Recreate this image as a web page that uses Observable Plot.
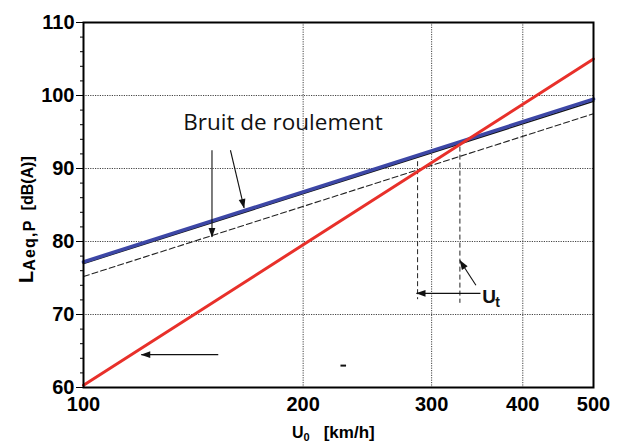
<!DOCTYPE html>
<html>
<head>
<meta charset="utf-8">
<script src="https://cdn.jsdelivr.net/npm/d3@7"></script>
<script src="https://cdn.jsdelivr.net/npm/@observablehq/plot@0.6"></script>
<style>
  html, body { margin: 0; padding: 0; background: #fff; }
</style>
</head>
<body>
<div id="chart"></div>
<script>
// ---- data ----
const xTicks = [100, 200, 300, 400, 500];
const yMajorTicks = [60, 70, 80, 90, 100, 110];
const yMinorTicks = [62, 64, 66, 68, 72, 74, 76, 78, 82, 84, 86, 88, 92, 94, 96, 98, 102, 104, 106, 108];
const xGrid = [200, 300, 400];
const yGrid = [70, 80, 90, 100];

const speedEnds = [100, 500];               // U0 [km/h]
const rollingBlue = [77.2, 99.5];           // bruit de roulement (blue)
const rollingBlack = [77.0, 99.2];          // black trace under blue
const rollingDashed = [75.2, 97.5];         // dashed rolling noise
const aeroRed = [60.3, 105.0];              // aerodynamic noise (red)

// vertical dashed markers for U_t
const utX = [287, 328];
const utTop = [91.0, 93.0];
const utBottom = [72.1, 71.6];

// annotation arrows
const arrowX1 = [150, 159, 153, 350, 345];
const arrowY1 = [92.5, 92.5, 64.5, 72.9, 74.0];
const arrowX2 = [150, 166, 120, 286, 328];
const arrowY2 = [80.6, 84.6, 64.5, 72.9, 77.4];

const labelBruit = ["Bruit de roulement"];
const labelBruitX = [137];
const labelBruitY = [96.2];
const labelUtX = [352];
const labelUtY = [72.4];

const idx = (arr) => arr.map((_, i) => i);

function filledArrow(color, context) {
  const doc = (context && context.document) || document;
  const m = d3.select(doc.createElementNS("http://www.w3.org/2000/svg", "marker"))
    .attr("viewBox", "-10 -5 12 10")
    .attr("markerWidth", 12)
    .attr("markerHeight", 10)
    .attr("refX", 0)
    .attr("refY", 0)
    .attr("orient", "auto")
    .attr("markerUnits", "userSpaceOnUse")
    .attr("fill", color)
    .attr("stroke", "none");
  m.append("path").attr("d", "M-9,-3.4L0.5,0L-9,3.4Z");
  return m.node();
}

const chart = Plot.plot({
  width: 624,
  height: 448,
  marginLeft: 83,
  marginTop: 22,
  marginRight: 31,
  marginBottom: 61,
  style: { fontFamily: "'Liberation Sans', Arial, sans-serif", background: "#fff", color: "#000" },
  x: { type: "log", domain: [100, 500], label: null },
  y: { domain: [60, 110], label: null },
  marks: [
    Plot.ruleY(yGrid, { stroke: "#444", strokeWidth: 1, strokeDasharray: "1.2,1.2" }),
    Plot.ruleX(xGrid, { stroke: "#444", strokeWidth: 1, strokeDasharray: "1.2,1.2" }),
    Plot.axisY(yMajorTicks, { tickSize: 7, tickPadding: 2, fontSize: 20, fontWeight: "bold", label: null }),
    Plot.axisY(yMinorTicks, { tickSize: 3, tickFormat: () => "", label: null }),
    Plot.axisX(xTicks, { tickSize: 0, tickPadding: 9, fontSize: 20, fontWeight: "bold", tickFormat: d => String(d), label: null }),
    // vertical dashed U_t markers
    Plot.link(idx(utX), {
      x1: i => utX[i], x2: i => utX[i], y1: i => utTop[i], y2: i => utBottom[i],
      stroke: "#222", strokeWidth: 1, strokeDasharray: "5,3"
    }),
    // lines
    Plot.line(speedEnds, { x: d => d, y: (d, i) => rollingDashed[i], stroke: "#222", strokeWidth: 1.1, strokeDasharray: "6,3" }),
    Plot.line(speedEnds, { x: d => d, y: (d, i) => rollingBlack[i], stroke: "#111", strokeWidth: 1.6 }),
    Plot.line(speedEnds, { x: d => d, y: (d, i) => rollingBlue[i], stroke: "#3d47a6", strokeWidth: 3.6 }),
    Plot.line(speedEnds, { x: d => d, y: (d, i) => aeroRed[i], stroke: "#e8302a", strokeWidth: 3 }),
    // arrows
    Plot.link(idx(arrowX1), {
      x1: i => arrowX1[i], y1: i => arrowY1[i], x2: i => arrowX2[i], y2: i => arrowY2[i],
      stroke: "#111", strokeWidth: 1.1, markerEnd: filledArrow
    }),
    // stray dash
    Plot.link([0], { x1: 225, x2: 229, y1: 63.0, y2: 63.0, stroke: "#111", strokeWidth: 2 }),
    // labels
    Plot.text(labelBruit, {
      x: (d, i) => labelBruitX[i], y: (d, i) => labelBruitY[i], text: d => d,
      textAnchor: "start", fontSize: 22.5, fontFamily: "'Open Sans', 'Noto Sans', sans-serif", fill: "#111"
    }),
    Plot.text(["U"], {
      x: (d, i) => labelUtX[i], y: (d, i) => labelUtY[i], text: d => d,
      textAnchor: "start", fontSize: 19, fontWeight: "bold", fill: "#111"
    }),
    Plot.text(["t"], {
      x: (d, i) => labelUtX[i], y: (d, i) => labelUtY[i], text: d => d,
      textAnchor: "start", fontSize: 14, fontWeight: "bold", fill: "#111", dx: 13, dy: 6
    }),
    Plot.frame({ stroke: "#000", strokeWidth: 2 })
  ]
});

document.getElementById("chart").appendChild(chart);

// axis titles with subscripts
const svg = d3.select(chart);
const yl = svg.append("text")
  .attr("transform", "translate(33,283) rotate(-90)")
  .attr("text-anchor", "start")
  .attr("font-family", "'Liberation Sans', Arial, sans-serif")
  .attr("font-weight", "bold")
  .attr("fill", "#000");
yl.append("tspan").attr("font-size", 20).text("L");
yl.append("tspan").attr("font-size", 16).attr("dy", 2).attr("letter-spacing", 1.2).text("Aeq,P");
yl.append("tspan").attr("font-size", 16).attr("dy", -2).attr("dx", 9).text("[dB(A)]");

const xl = svg.append("text")
  .attr("x", 292).attr("y", 438)
  .attr("text-anchor", "start")
  .attr("font-family", "'Liberation Sans', Arial, sans-serif")
  .attr("font-weight", "bold")
  .attr("fill", "#000");
xl.append("tspan").attr("font-size", 16).text("U");
xl.append("tspan").attr("font-size", 11).attr("dy", 3).text("0");
xl.append("tspan").attr("font-size", 17).attr("dy", -3).attr("dx", 14).text("[km/h]");
</script>
</body>
</html>
